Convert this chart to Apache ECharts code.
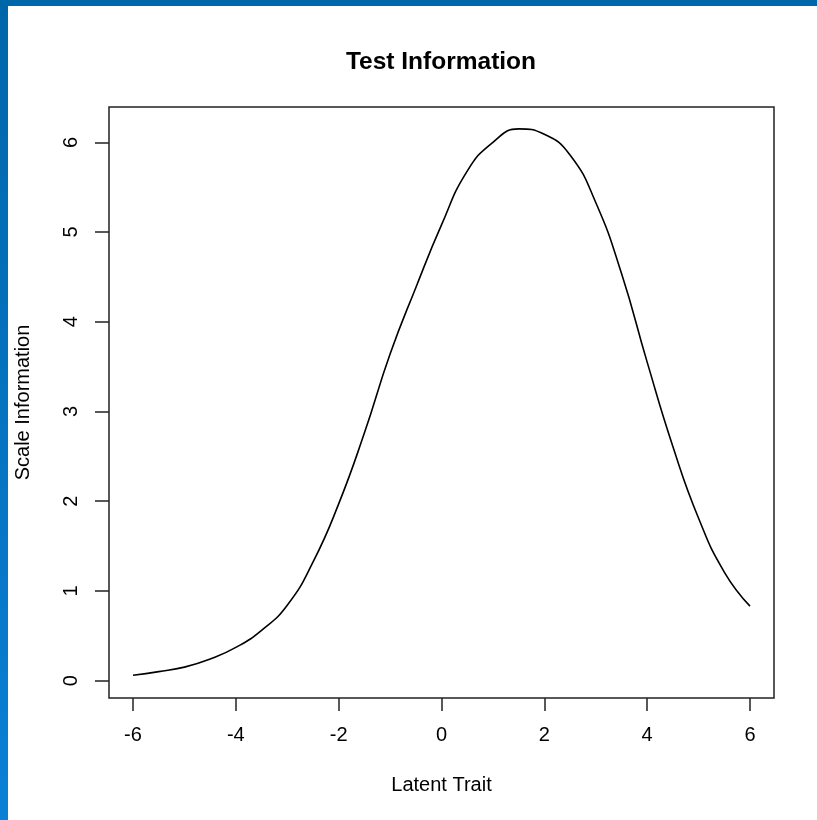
<!DOCTYPE html>
<html>
<head>
<meta charset="utf-8">
<script src="https://cdn.jsdelivr.net/npm/echarts@6/dist/echarts.min.js"></script>
<style>
  html, body { margin: 0; padding: 0; background: #ffffff; }
  #chart { width: 817px; height: 820px; }
</style>
</head>
<body>
<div id="chart"></div>
<script>
// Data
const latentTrait = [-6, -5.5, -5, -4.5, -4, -3.5, -3, -2.5, -2, -1.5, -1, -0.5, 0, 0.5, 1, 1.5, 2, 2.5, 3, 3.5, 4, 4.5, 5, 5.5, 6];
const information = [0.06, 0.10, 0.15, 0.24, 0.37, 0.56, 0.84, 1.32, 1.97, 2.76, 3.64, 4.38, 5.08, 5.68, 6.00, 6.15, 6.09, 5.86, 5.33, 4.54, 3.55, 2.61, 1.81, 1.21, 0.83];
const xTicks = [-6, -4, -2, 0, 2, 4, 6];
const yTicks = [0, 1, 2, 3, 4, 5, 6];
const titleText = 'Test Information';
const xName = 'Latent Trait';
const yName = 'Scale Information';

const points = latentTrait.map((x, i) => [x, information[i]]);

const chart = echarts.init(document.getElementById('chart'), null, { renderer: 'canvas' });
const font = 'Liberation Sans, Arial, sans-serif';
chart.setOption({
  animation: false,
  backgroundColor: '#ffffff',
  title: {
    text: titleText,
    left: 436, textAlign: 'center',
    top: 45,
    textStyle: { fontFamily: font, fontWeight: 'bold', fontSize: 24.5, color: '#000' }
  },
  graphic: [
    { type: 'rect', shape: { x: 0, y: 0, width: 817, height: 6 }, style: { fill: '#0067ab' }, z: 100 },
    { type: 'rect', shape: { x: 0, y: 0, width: 8, height: 820 },
      style: { fill: new echarts.graphic.LinearGradient(0, 0, 0, 1, [
        { offset: 0, color: '#0066aa' }, { offset: 1, color: '#0a80d6' }]) }, z: 100 }
  ],
  grid: {
    left: 109, top: 107, right: 43, bottom: 122,
    show: true, borderColor: '#222', borderWidth: 1.5, backgroundColor: 'transparent'
  },
  xAxis: {
    type: 'value',
    min: -6.467, max: 6.467,
    name: xName, nameLocation: 'middle', nameGap: 77,
    nameTextStyle: { fontFamily: font, fontSize: 20, color: '#000' },
    axisLine: { show: false, onZero: false },
    splitLine: { show: false },
    axisTick: { show: true, length: 13, customValues: xTicks, lineStyle: { color: '#222', width: 1.5 } },
    axisLabel: { customValues: xTicks, margin: 27, fontFamily: font, fontSize: 20, color: '#000' }
  },
  yAxis: {
    type: 'value',
    min: -0.194, max: 6.394,
    name: yName, nameLocation: 'middle', nameGap: 76,
    nameTextStyle: { fontFamily: font, fontSize: 20, color: '#000' },
    axisLine: { show: false, onZero: false },
    splitLine: { show: false },
    axisTick: { show: true, length: 14, customValues: yTicks, lineStyle: { color: '#222', width: 1.5 } },
    axisLabel: { customValues: yTicks, rotate: 90, margin: 28, fontFamily: font, fontSize: 20, color: '#000' }
  },
  series: [{
    type: 'line',
    data: points,
    smooth: 0.5,
    showSymbol: false,
    lineStyle: { color: '#000', width: 1.6 }
  }]
});
</script>
</body>
</html>
